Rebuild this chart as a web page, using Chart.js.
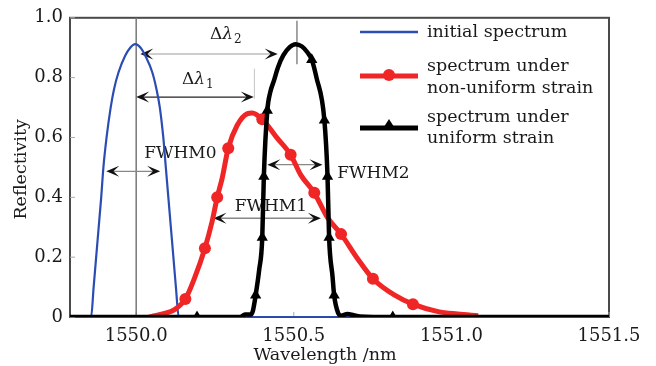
<!DOCTYPE html>
<html>
<head>
<meta charset="utf-8">
<script src="https://cdn.jsdelivr.net/npm/chart.js@4"></script>
<style>
html, body { margin: 0; padding: 0; background: #fff; }
#wrap { width: 656px; height: 366px; }
</style>
</head>
<body>
<div id="wrap"><canvas id="chart"></canvas></div>
<script>
const xTicks = [1550.0, 1550.5, 1551.0, 1551.5];
const yTicks = [0, 0.2, 0.4, 0.6, 0.8, 1.0];

// initial spectrum (blue)
const initialWl = [1549.79, 1549.857, 1549.865, 1549.873, 1549.881, 1549.889, 1549.896, 1549.906, 1549.919, 1549.930, 1549.944, 1549.965, 1549.981, 1549.997, 1550.014, 1550.029, 1550.051, 1550.064, 1550.075, 1550.086, 1550.094, 1550.102, 1550.110, 1550.118, 1550.126, 1550.135, 1551.5];
const initialR  = [0, 0, 0.1, 0.2, 0.3, 0.4, 0.5, 0.6, 0.7, 0.763, 0.818, 0.873, 0.9, 0.912, 0.9, 0.873, 0.818, 0.763, 0.7, 0.6, 0.5, 0.4, 0.3, 0.2, 0.1, 0, 0];

// spectrum under non-uniform strain (red)
const nonUniformWl = [1550.04, 1550.06, 1550.09, 1550.119, 1550.156, 1550.185, 1550.218, 1550.241, 1550.257, 1550.273, 1550.292, 1550.32, 1550.353, 1550.368, 1550.40, 1550.448, 1550.49, 1550.522, 1550.565, 1550.607, 1550.65, 1550.703, 1550.751, 1550.82, 1550.878, 1550.958, 1551.02, 1551.085];
const nonUniformR  = [0, 0.004, 0.012, 0.023, 0.06, 0.13, 0.23, 0.32, 0.40, 0.465, 0.564, 0.64, 0.68, 0.682, 0.661, 0.597, 0.542, 0.475, 0.415, 0.332, 0.277, 0.194, 0.128, 0.073, 0.043, 0.018, 0.01, 0.004];
const nonUniformMarkWl = [1550.156, 1550.218, 1550.257, 1550.292, 1550.40, 1550.49, 1550.565, 1550.65, 1550.751, 1550.878];
const nonUniformMarkR  = [0.06, 0.23, 0.40, 0.564, 0.661, 0.542, 0.415, 0.277, 0.128, 0.043];

// spectrum under uniform strain (black)
const uniformWl = [1549.79, 1550.193, 1550.33, 1550.345, 1550.362, 1550.37, 1550.379, 1550.39, 1550.40, 1550.405, 1550.416, 1550.425, 1550.437, 1550.45, 1550.467, 1550.487, 1550.506, 1550.525, 1550.543, 1550.557, 1550.572, 1550.597, 1550.607, 1550.612, 1550.623, 1550.628, 1550.64, 1550.65, 1550.67, 1550.69, 1550.71, 1550.814, 1551.5];
const uniformR  = [0, 0, 0, 0.008, 0.008, 0.02, 0.073, 0.156, 0.266, 0.47, 0.69, 0.75, 0.79, 0.835, 0.875, 0.902, 0.912, 0.905, 0.885, 0.86, 0.8, 0.658, 0.47, 0.266, 0.134, 0.073, 0.015, 0.004, 0.01, 0.006, 0.002, 0, 0];
const uniformMarkWl = [1550.193, 1550.379, 1550.40, 1550.405, 1550.416, 1550.557, 1550.597, 1550.607, 1550.612, 1550.628, 1550.814];
const uniformMarkR  = [0, 0.073, 0.266, 0.47, 0.69, 0.86, 0.658, 0.47, 0.266, 0.073, 0];

const legendLabels = ['initial spectrum', ['spectrum under', 'non-uniform strain'], ['spectrum under', 'uniform strain']];

const BLUE = '#2b4db3';
const RED = '#f02626';
const SERIF = '"DejaVu Serif", "Liberation Serif", serif';

function pts(xs, ys) { return xs.map((x, i) => ({ x: x, y: ys[i] })); }

// annotation marks, in data units
const guideLines = [
    { x: 1550.0, y0: 0, y1: 1.0, color: '#777', w: 1.5 },
    { x: 1550.51, y0: 0.845, y1: 0.99, color: '#888', w: 1.5 },
    { x: 1550.375, y0: 0.73, y1: 0.83, color: '#c4c4c4', w: 1 }
];
const arrows = [
    { x0: 1550.013, x1: 1550.449, y: 0.879, color: '#bdbdbd' },
    { x0: 1550.0, x1: 1550.373, y: 0.735, color: '#222' },
    { x0: 1549.905, x1: 1550.076, y: 0.487, color: '#888' },
    { x0: 1550.245, x1: 1550.586, y: 0.33, color: '#888' },
    { x0: 1550.416, x1: 1550.591, y: 0.509, color: '#888' }
];
const notes = [
    { text: 'FWHM0', x: 1550.14, y: 0.545, align: 'center' },
    { text: 'FWHM1', x: 1550.427, y: 0.37, align: 'center' },
    { text: 'FWHM2', x: 1550.638, y: 0.48, align: 'left' }
];
const deltas = [
    { sub: '2', x: 1550.283, y: 0.945 },
    { sub: '1', x: 1550.194, y: 0.795 }
];

function arrowHead(ctx, tx, ty, dir) {
    const L = 13, W = 5.5;
    ctx.beginPath();
    ctx.moveTo(tx, ty);
    ctx.lineTo(tx - dir * L, ty - W);
    ctx.lineTo(tx - dir * L * 0.55, ty);
    ctx.lineTo(tx - dir * L, ty + W);
    ctx.closePath();
    ctx.fill();
}

const decorPlugin = {
    id: 'decor',
    beforeDatasetsDraw(chart) {
        const { ctx, chartArea: a, scales: { x, y } } = chart;
        ctx.save();
        // frame
        ctx.strokeStyle = '#4a4a4a';
        ctx.lineWidth = 2;
        ctx.strokeRect(a.left, a.top, a.right - a.left, a.bottom - a.top);
        // inner ticks
        ctx.strokeStyle = '#aaa';
        ctx.lineWidth = 1;
        xTicks.forEach(v => {
            const px = x.getPixelForValue(v);
            ctx.beginPath(); ctx.moveTo(px, a.bottom); ctx.lineTo(px, a.bottom - 5); ctx.stroke();
        });
        yTicks.forEach(v => {
            const py = y.getPixelForValue(v);
            ctx.beginPath(); ctx.moveTo(a.left, py); ctx.lineTo(a.left + 5, py); ctx.stroke();
        });
        guideLines.forEach(g => {
            ctx.strokeStyle = g.color;
            ctx.lineWidth = g.w;
            const px = x.getPixelForValue(g.x);
            ctx.beginPath();
            ctx.moveTo(px, y.getPixelForValue(g.y0));
            ctx.lineTo(px, y.getPixelForValue(g.y1));
            ctx.stroke();
        });
        arrows.forEach(r => {
            const x0 = x.getPixelForValue(r.x0), x1 = x.getPixelForValue(r.x1), py = y.getPixelForValue(r.y);
            ctx.strokeStyle = r.color;
            ctx.lineWidth = 1.3;
            ctx.beginPath(); ctx.moveTo(x0 + 4, py); ctx.lineTo(x1 - 4, py); ctx.stroke();
            ctx.fillStyle = '#111';
            arrowHead(ctx, x0, py, -1);
            arrowHead(ctx, x1, py, 1);
        });
        ctx.fillStyle = '#1a1a1a';
        ctx.textBaseline = 'middle';
        ctx.font = '17px ' + SERIF;
        notes.forEach(n => {
            ctx.textAlign = n.align;
            ctx.fillText(n.text, x.getPixelForValue(n.x), y.getPixelForValue(n.y));
        });
        deltas.forEach(d => {
            const px = x.getPixelForValue(d.x), py = y.getPixelForValue(d.y);
            ctx.textAlign = 'left';
            ctx.font = '17px ' + SERIF;
            const w1 = ctx.measureText('\u0394').width;
            ctx.font = 'italic 17px ' + SERIF;
            const w2 = ctx.measureText('\u03bb').width;
            ctx.font = '12px ' + SERIF;
            const w3 = ctx.measureText(d.sub).width;
            let sx = px - (w1 + w2 + w3) / 2;
            ctx.font = '17px ' + SERIF;
            ctx.fillText('\u0394', sx, py);
            ctx.font = 'italic 17px ' + SERIF;
            ctx.fillText('\u03bb', sx + w1, py);
            ctx.font = '12px ' + SERIF;
            ctx.fillText(d.sub, sx + w1 + w2 + 1, py + 6);
        });
        ctx.restore();
    },
    afterDraw(chart) {
        const { ctx, chartArea: a } = chart;
        ctx.save();
        // axis titles
        ctx.fillStyle = '#1a1a1a';
        ctx.font = '17.5px ' + SERIF;
        ctx.textAlign = 'center';
        ctx.textBaseline = 'middle';
        ctx.fillText('Wavelength /nm', 325, 355);
        ctx.translate(21, (a.top + a.bottom) / 2 + 2);
        ctx.rotate(-Math.PI / 2);
        ctx.fillText('Reflectivity', 0, 0);
        ctx.restore();

        // legend
        ctx.save();
        const lx0 = 360, lx1 = 418, tx = 427;
        ctx.lineCap = 'butt';
        ctx.strokeStyle = BLUE; ctx.lineWidth = 2.5;
        ctx.beginPath(); ctx.moveTo(lx0, 32); ctx.lineTo(lx1, 32); ctx.stroke();
        ctx.strokeStyle = RED; ctx.lineWidth = 5;
        ctx.beginPath(); ctx.moveTo(lx0, 76); ctx.lineTo(lx1, 76); ctx.stroke();
        ctx.fillStyle = RED;
        ctx.beginPath(); ctx.arc(389, 75, 6, 0, Math.PI * 2); ctx.fill();
        ctx.strokeStyle = '#000'; ctx.lineWidth = 5;
        ctx.beginPath(); ctx.moveTo(lx0, 128); ctx.lineTo(lx1, 128); ctx.stroke();
        ctx.fillStyle = '#000';
        ctx.beginPath(); ctx.moveTo(389, 119); ctx.lineTo(396, 130); ctx.lineTo(382, 130); ctx.closePath(); ctx.fill();

        ctx.fillStyle = '#1a1a1a';
        ctx.font = '17.5px ' + SERIF;
        ctx.textAlign = 'left';
        ctx.textBaseline = 'middle';
        ctx.fillText(legendLabels[0], tx, 32);
        ctx.fillText(legendLabels[1][0], tx, 66);
        ctx.fillText(legendLabels[1][1], tx, 88);
        ctx.fillText(legendLabels[2][0], tx, 117);
        ctx.fillText(legendLabels[2][1], tx, 138);
        ctx.restore();
    }
};

new Chart(document.getElementById('chart'), {
    type: 'line',
    data: {
        datasets: [
            { label: 'initial spectrum', data: pts(initialWl, initialR), borderColor: BLUE, borderWidth: 2.2, pointRadius: 0, cubicInterpolationMode: 'monotone', order: 4 },
            { label: 'non-uniform line', data: pts(nonUniformWl, nonUniformR), borderColor: RED, borderWidth: 5, pointRadius: 0, cubicInterpolationMode: 'monotone', order: 3 },
            { label: 'non-uniform marks', data: pts(nonUniformMarkWl, nonUniformMarkR), showLine: false, pointStyle: 'circle', pointRadius: 6, backgroundColor: RED, borderColor: RED, borderWidth: 0, order: 2 },
            { label: 'uniform line', data: pts(uniformWl, uniformR), borderColor: '#000', borderWidth: 4.5, pointRadius: 0, cubicInterpolationMode: 'monotone', order: 1 },
            { label: 'uniform marks', data: pts(uniformMarkWl, uniformMarkR), showLine: false, pointStyle: 'triangle', pointRadius: 6.5, backgroundColor: '#000', borderColor: '#000', borderWidth: 0, order: 0 }
        ]
    },
    options: {
        responsive: true,
        maintainAspectRatio: false,
        animation: false,
        layout: { padding: { top: 15, right: 47, left: 0, bottom: 0 } },
        plugins: { legend: { display: false }, tooltip: { enabled: false } },
        scales: {
            x: {
                type: 'linear',
                min: 1549.79,
                max: 1551.5,
                afterBuildTicks: s => { s.ticks = xTicks.map(v => ({ value: v })); },
                afterFit: s => { s.height = 49; },
                grid: { display: false, drawTicks: false },
                border: { display: false },
                ticks: { padding: 9, color: '#1a1a1a', font: { family: SERIF, size: 18 }, callback: v => v.toFixed(1), maxRotation: 0 }
            },
            y: {
                min: 0,
                max: 1.0,
                afterBuildTicks: s => { s.ticks = yTicks.map(v => ({ value: v })); },
                afterFit: s => { s.width = 70; },
                grid: { display: false, drawTicks: false },
                border: { display: false },
                ticks: { padding: 7, color: '#1a1a1a', font: { family: SERIF, size: 18 }, callback: v => v === 0 ? '0' : v.toFixed(1) }
            }
        }
    },
    plugins: [decorPlugin]
});
</script>
</body>
</html>
